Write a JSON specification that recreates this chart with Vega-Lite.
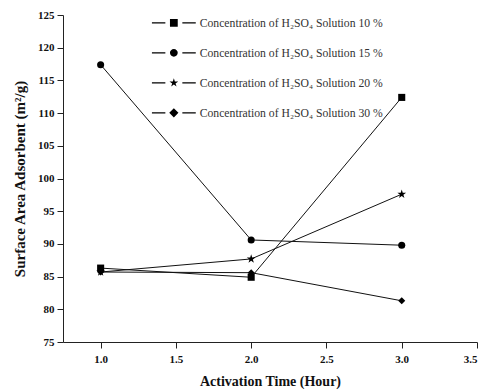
{
  "$schema": "https://vega.github.io/schema/vega-lite/v6.json",
  "width": 414,
  "height": 327,
  "autosize": {"type": "none"},
  "padding": {"left": 63, "top": 15, "right": 10, "bottom": 50},
  "background": "white",
  "config": {
    "view": {"stroke": null},
    "font": "Liberation Serif",
    "axis": {"grid": false, "domainColor": "#222", "tickColor": "#222", "tickSize": 6, "labelFont": "Liberation Serif", "labelFontWeight": "bold", "labelFontSize": 11, "labelColor": "#111", "titleFont": "Liberation Serif", "titleFontWeight": "bold", "titleColor": "#111"}
  },
  "data": {
    "values": [
      {"series": "Concentration of H₂SO₄ Solution 10 %", "time": 1.0, "area": 86.3},
      {"series": "Concentration of H₂SO₄ Solution 10 %", "time": 2.0, "area": 84.9},
      {"series": "Concentration of H₂SO₄ Solution 10 %", "time": 3.0, "area": 112.4},
      {"series": "Concentration of H₂SO₄ Solution 15 %", "time": 1.0, "area": 117.4},
      {"series": "Concentration of H₂SO₄ Solution 15 %", "time": 2.0, "area": 90.6},
      {"series": "Concentration of H₂SO₄ Solution 15 %", "time": 3.0, "area": 89.8},
      {"series": "Concentration of H₂SO₄ Solution 20 %", "time": 1.0, "area": 85.7},
      {"series": "Concentration of H₂SO₄ Solution 20 %", "time": 2.0, "area": 87.7},
      {"series": "Concentration of H₂SO₄ Solution 20 %", "time": 3.0, "area": 97.6},
      {"series": "Concentration of H₂SO₄ Solution 30 %", "time": 1.0, "area": 85.7},
      {"series": "Concentration of H₂SO₄ Solution 30 %", "time": 2.0, "area": 85.6},
      {"series": "Concentration of H₂SO₄ Solution 30 %", "time": 3.0, "area": 81.3}
    ]
  },
  "encoding": {
    "x": {"field": "time", "type": "quantitative", "scale": {"domain": [0.75, 3.5], "nice": false, "zero": false},
      "axis": {"values": [1, 1.5, 2, 2.5, 3, 3.5], "format": ".1f", "title": "Activation Time (Hour)", "titleFontSize": 14, "titlePadding": 10, "labelPadding": 5}},
    "y": {"field": "area", "type": "quantitative", "scale": {"domain": [75, 125], "nice": false, "zero": false},
      "axis": {"values": [75, 80, 85, 90, 95, 100, 105, 110, 115, 120, 125], "title": "Surface Area Adsorbent (m²/g)", "titleFontSize": 15, "titlePadding": 10, "labelPadding": 3}}
  },
  "layer": [
    {
      "mark": {"type": "line", "color": "#111", "strokeWidth": 1},
      "encoding": {"detail": {"field": "series"}}
    },
    {
      "mark": {"type": "point", "filled": true, "color": "#000", "opacity": 1, "size": 50},
      "encoding": {
        "shape": {
          "field": "series",
          "scale": {"range": ["square", "circle", "M0,-1.3L0.29,-0.4L1.236,-0.402L0.469,0.152L0.764,1.052L0,0.494L-0.764,1.052L-0.469,0.152L-1.236,-0.402L-0.29,-0.4Z", "diamond"]},
          "legend": null
        }
      }
    },
    {
      "transform": [{"filter": "false"}],
      "mark": {"type": "point", "filled": true, "color": "#000", "opacity": 1, "size": 50},
      "encoding": {
        "shape": {
          "field": "series",
          "scale": {
            "domain": ["Concentration of H₂SO₄ Solution 10 %", "Concentration of H₂SO₄ Solution 15 %", "Concentration of H₂SO₄ Solution 20 %", "Concentration of H₂SO₄ Solution 30 %"],
            "range": [
              "M-6.2,-0.15H-2.4V0.15H-6.2Z M2.4,-0.15H6.2V0.15H2.4Z M-1.1,-1.1H1.1V1.1H-1.1Z",
              "M-6.2,-0.15H-2.4V0.15H-6.2Z M2.4,-0.15H6.2V0.15H2.4Z M1.1,0A1.1,1.1 0 1,1 -1.1,0A1.1,1.1 0 1,1 1.1,0Z",
              "M-6.2,-0.15H-2.4V0.15H-6.2Z M2.4,-0.15H6.2V0.15H2.4Z M0,-1.3L0.29,-0.4L1.236,-0.402L0.469,0.152L0.764,1.052L0,0.494L-0.764,1.052L-0.469,0.152L-1.236,-0.402L-0.29,-0.4Z",
              "M-6.2,-0.15H-2.4V0.15H-6.2Z M2.4,-0.15H6.2V0.15H2.4Z M0,-1.3L1.3,0L0,1.3L-1.3,0Z"
            ]
          },
          "legend": {
            "title": null,
            "orient": "none",
            "legendX": 105,
            "legendY": 2,
            "labelFont": "Liberation Serif",
            "labelFontSize": 11.7,
            "labelColor": "#333",
            "labelLimit": 400,
            "labelOffset": 20,
            "rowPadding": 17,
            "symbolSize": 50,
            "symbolOpacity": 1,
            "symbolFillColor": "#000",
            "symbolStrokeColor": "#000",
            "symbolStrokeWidth": 0
          }
        }
      }
    }
  ],
  "resolve": {"scale": {"shape": "independent"}, "legend": {"shape": "independent"}}
}
